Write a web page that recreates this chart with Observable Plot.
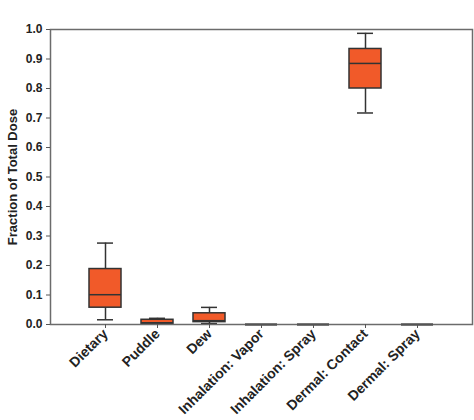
<!DOCTYPE html>
<html>
<head>
<meta charset="utf-8">
<script src="https://cdn.jsdelivr.net/npm/d3@7"></script>
<script src="https://cdn.jsdelivr.net/npm/@observablehq/plot@0.6"></script>
<style>
  html, body { margin: 0; padding: 0; background: #fff; }
  #chart svg text { font-weight: bold; }
</style>
</head>
<body>
<div id="chart"></div>
<script>
const categories = ["Dietary", "Puddle", "Dew", "Inhalation: Vapor", "Inhalation: Spray", "Dermal: Contact", "Dermal: Spray"];
const whiskerLow = [0.016, 0.001, 0.003, 0, 0, 0.717, 0];
const q1 =         [0.057, 0.002, 0.008, 0, 0, 0.800, 0];
const median =     [0.101, 0.006, 0.013, 0, 0, 0.885, 0];
const q3 =         [0.188, 0.016, 0.038, 0, 0, 0.934, 0];
const whiskerHigh= [0.276, 0.021, 0.058, 0, 0, 0.987, 0];
const yTicks = [0, 0.1, 0.2, 0.3, 0.4, 0.5, 0.6, 0.7, 0.8, 0.9, 1.0];
const yLabel = "Fraction of Total Dose";

const rows = categories.map((c, i) => ({
  cat: c, lo: whiskerLow[i], q1: q1[i], med: median[i], q3: q3[i], hi: whiskerHigh[i]
}));
const boxes = rows.filter(d => d.q3 > d.q1);
const flat = rows.filter(d => d.q3 === d.q1 && d.hi === d.lo);

const fill = "#f15a29";
const dark = "#333";

const chart = Plot.plot({
  width: 474,
  height: 420,
  marginLeft: 50,
  marginRight: 2,
  marginTop: 29,
  marginBottom: 96,
  style: { fontFamily: "'Liberation Sans', Arial, sans-serif", background: "#fff" },
  x: { type: "band", domain: categories, paddingInner: 0.393, paddingOuter: 0.6965, align: 0.5 },
  y: { domain: [0, 1] },
  marks: [
    Plot.ruleX(boxes, { x: "cat", y1: "lo", y2: "q1", stroke: dark, strokeWidth: 1.5 }),
    Plot.ruleX(boxes, { x: "cat", y1: "q3", y2: "hi", stroke: dark, strokeWidth: 1.5 }),
    Plot.tickY(boxes, { x: "cat", y: "lo", stroke: dark, strokeWidth: 1.5, insetLeft: 8, insetRight: 8 }),
    Plot.tickY(boxes, { x: "cat", y: "hi", stroke: dark, strokeWidth: 1.5, insetLeft: 8, insetRight: 8 }),
    Plot.barY(boxes, { x: "cat", y1: "q1", y2: "q3", fill: fill, stroke: dark, strokeWidth: 1.5 }),
    Plot.tickY(boxes, { x: "cat", y: "med", stroke: dark, strokeWidth: 1.5 }),
    Plot.frame({ stroke: "#6b6b6b", strokeWidth: 1.5 }),
    Plot.tickY(flat, { x: "cat", y: "med", stroke: "#555", strokeWidth: 2.5 }),
    Plot.axisY({ ticks: yTicks, tickFormat: d3.format(".1f"), tickSize: 4, tickPadding: 4, fontSize: 12, label: null, stroke: "#555", color: "#222" }),
    Plot.axisX({ tickRotate: -45, tickSize: 4, tickPadding: 3, fontSize: 14, label: null, stroke: "#555", color: "#222" }),
    Plot.text([yLabel], { text: d => d, frameAnchor: "left", textAnchor: "middle", rotate: -90, dx: -38, fontSize: 13, fontWeight: "bold", fill: "#222" })
  ]
});
document.getElementById("chart").appendChild(chart);
</script>
</body>
</html>
